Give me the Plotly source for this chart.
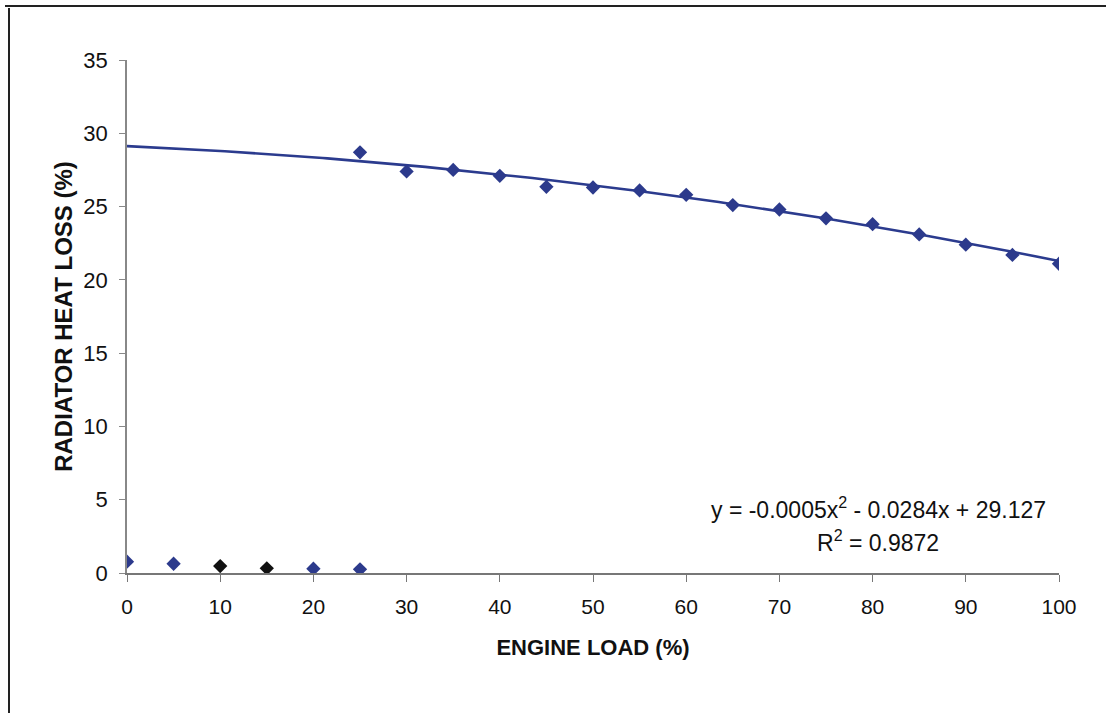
import plotly.graph_objects as go
import numpy as np

# Upper series (radiator heat loss, %)
load_hi = [25, 30, 35, 40, 45, 50, 55, 60, 65, 70, 75, 80, 85, 90, 95, 100]
loss_hi = [28.7, 27.4, 27.5, 27.1, 26.35, 26.3, 26.1, 25.8, 25.1, 24.8, 24.2, 23.8, 23.1, 22.4, 21.7, 21.1]

# Lower series
load_lo = [0, 5, 10, 15, 20, 25]
loss_lo = [0.77, 0.63, 0.47, 0.32, 0.29, 0.25]
colors_lo = ["#2c3a8c", "#2c3a8c", "#111111", "#111111", "#2c3a8c", "#2c3a8c"]

# Polynomial trendline coefficients as printed on the chart
trend_coeffs = [-0.0005, -0.0284, 29.127]
x_ticks = list(range(0, 101, 10))
y_ticks = list(range(0, 36, 5))

navy = "#2c3a8c"
font_family = "Liberation Sans, Arial, sans-serif"

tx = np.linspace(0, 100, 201)
ty = np.polyval(trend_coeffs, tx)

fig = go.Figure()
fig.add_trace(go.Scatter(x=tx, y=ty, mode="lines",
                         line=dict(color="#2b3b8e", width=2.6), hoverinfo="skip"))
fig.add_trace(go.Scatter(x=load_hi, y=loss_hi, mode="markers",
                         marker=dict(symbol="diamond", size=11, color=navy)))
fig.add_trace(go.Scatter(x=load_lo, y=loss_lo, mode="markers",
                         marker=dict(symbol="diamond", size=11, color=colors_lo)))

fig.update_layout(
    width=1106, height=713,
    margin=dict(l=127, r=47, t=60, b=140),
    paper_bgcolor="white", plot_bgcolor="white",
    showlegend=False,
    font=dict(family=font_family, size=21, color="#111111"),
    xaxis=dict(range=[0, 100], tickvals=x_ticks, showgrid=False, zeroline=False,
               showline=True, linecolor="#777777", linewidth=1.5,
               ticks="outside", ticklen=7, tickcolor="#777777",
               tickfont=dict(size=21),
               ticklabelstandoff=7,
               title=dict(text="<b>ENGINE LOAD (%)</b>", font=dict(size=22), standoff=23)),
    yaxis=dict(range=[0, 35], tickvals=y_ticks, showgrid=False, zeroline=False,
               showline=True, linecolor="#888888", linewidth=1.5,
               ticks="outside", ticklen=6, tickcolor="#888888",
               tickfont=dict(size=22),
               ticklabelstandoff=7,
               title=dict(text="<b>RADIATOR HEAT LOSS (%)</b>", font=dict(size=24), standoff=4)),
)

# trendline label annotations
fig.add_annotation(xref="paper", yref="paper", x=(878 - 127) / 932, y=(573 - 508) / 513,
                   text="y = -0.0005x<sup>2</sup> - 0.0284x + 29.127", showarrow=False,
                   font=dict(size=23), xanchor="center", yanchor="middle")
fig.add_annotation(xref="paper", yref="paper", x=(878 - 127) / 932, y=(573 - 541) / 513,
                   text="R<sup>2</sup> = 0.9872", showarrow=False,
                   font=dict(size=23), xanchor="center", yanchor="middle")

# scanned page frame lines
fig.add_shape(type="line", xref="paper", yref="paper",
              x0=(5 - 127) / 932, x1=(1106 - 127) / 932,
              y0=(573 - 6) / 513, y1=(573 - 6) / 513,
              line=dict(color="#222222", width=2))
fig.add_shape(type="line", xref="paper", yref="paper",
              x0=(9 - 127) / 932, x1=(9 - 127) / 932,
              y0=(573 - 8) / 513, y1=(573 - 713) / 513,
              line=dict(color="#222222", width=2))

fig.write_html("out.html")
